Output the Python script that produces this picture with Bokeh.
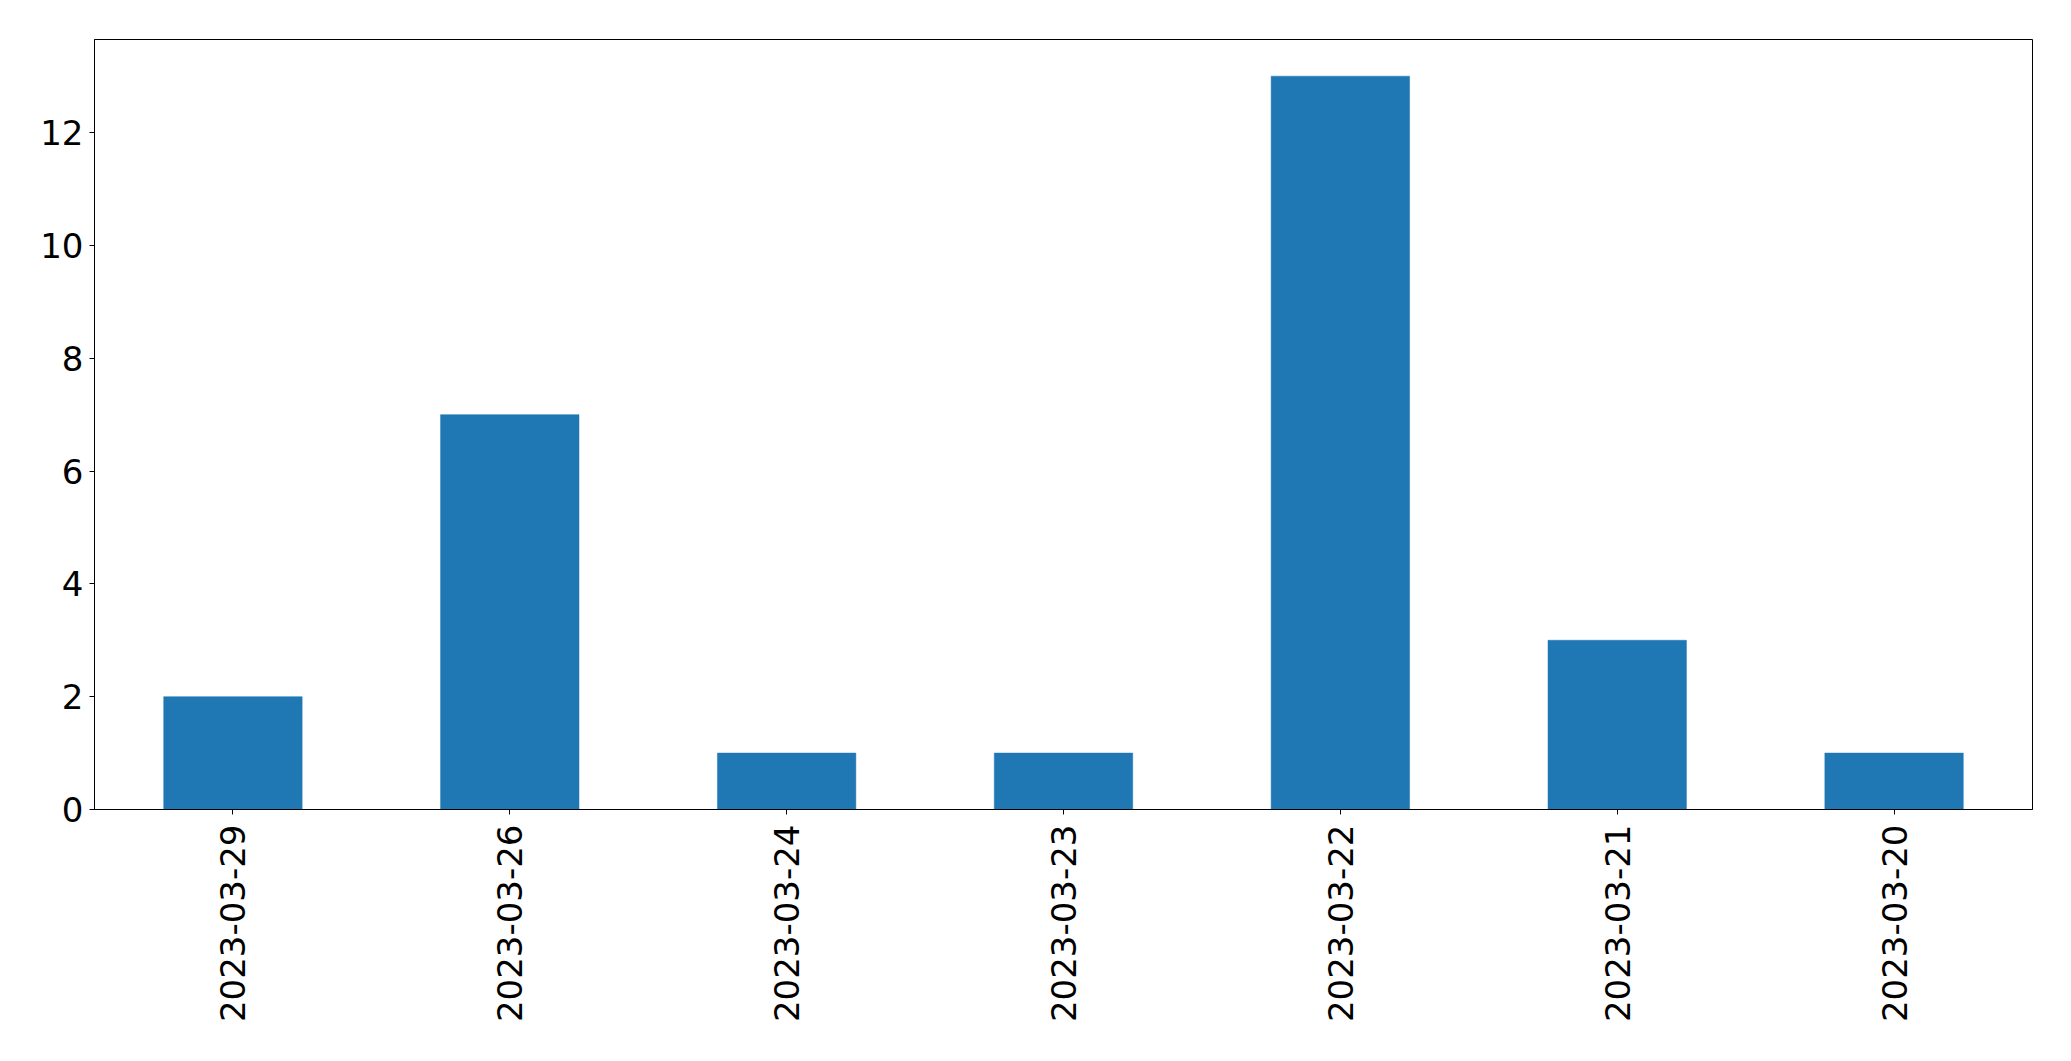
import math
from bokeh.plotting import figure
from bokeh.models import FactorRange, Range1d, FixedTicker, ColumnDataSource
from bokeh.embed import file_html
from bokeh.resources import INLINE

dates = ["2023-03-29", "2023-03-26", "2023-03-24", "2023-03-23", "2023-03-22", "2023-03-21", "2023-03-20"]
counts = [2, 7, 1, 1, 13, 3, 1]
y_ticks = [0, 2, 4, 6, 8, 10, 12]

source = ColumnDataSource(data=dict(dates=dates, counts=counts))

p = figure(
    x_range=FactorRange(factors=dates),
    y_range=Range1d(0, max(counts) * 1.05),
    frame_width=1938, frame_height=770,
    min_border_left=94, min_border_right=30, min_border_top=39, min_border_bottom=225,
    output_backend="svg", toolbar_location=None,
)

p.vbar(x="dates", top="counts", width=0.5, source=source,
       fill_color="#1f77b4", line_color="#1f77b4", line_width=0.5)

p.xgrid.visible = False
p.ygrid.visible = False
p.outline_line_color = "black"
p.outline_line_width = 1
p.outline_line_alpha = 1.0
p.background_fill_color = "white"
p.border_fill_color = "white"

p.yaxis.ticker = FixedTicker(ticks=y_ticks)
p.yaxis.minor_tick_line_color = None
p.xaxis.minor_tick_line_color = None

for ax in (p.xaxis, p.yaxis):
    ax.axis_line_color = "black"
    ax.major_tick_line_color = "black"
    ax.major_tick_out = 5
    ax.major_tick_in = 0
    ax.major_label_text_font = "DejaVu Sans"
    ax.major_label_text_font_size = "34px"
    ax.major_label_text_color = "black"

p.yaxis.major_label_standoff = 6
p.xaxis.major_label_standoff = 10
p.xaxis.major_label_orientation = math.pi / 2
p.xaxis.group_text_font_size = "0px"

open("out.html", "w").write(file_html(p, INLINE))
